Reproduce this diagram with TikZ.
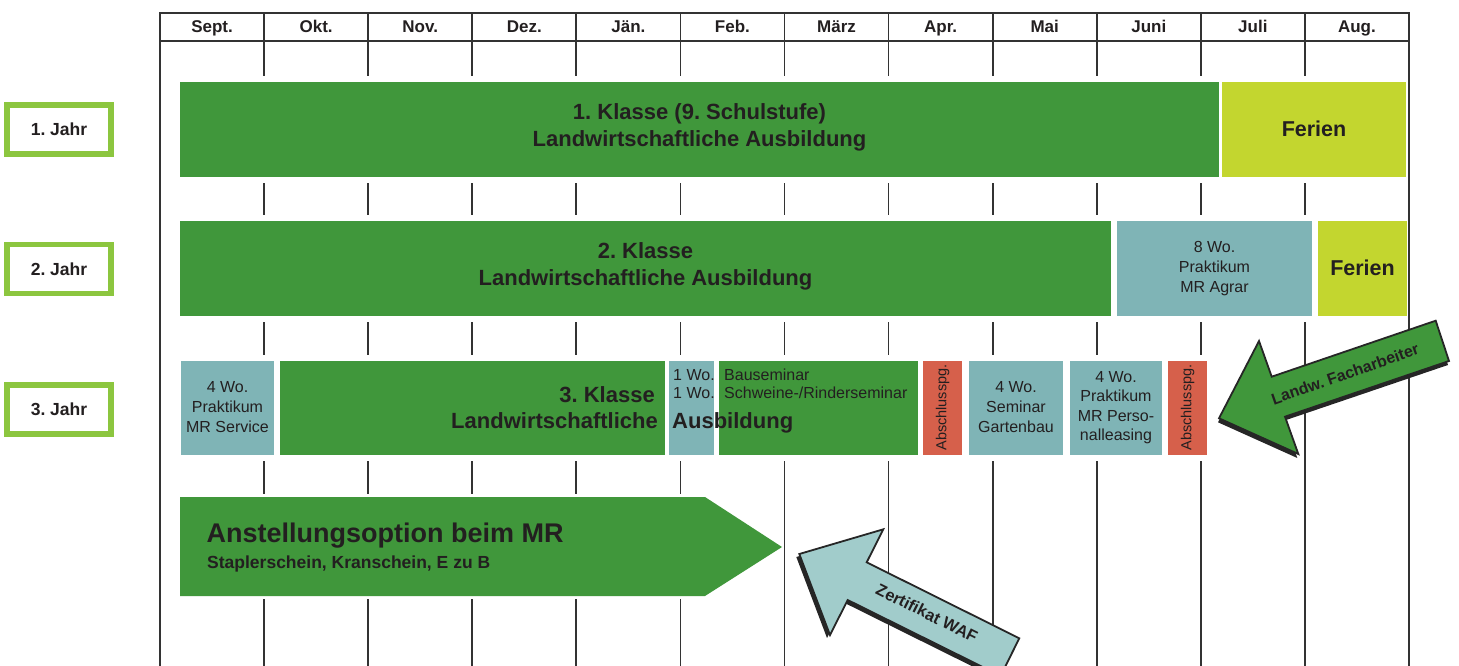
\documentclass[tikz,border=0pt]{standalone}
\usepackage{fontspec}
\setmainfont{Liberation Sans}
\frenchspacing
\definecolor{dgreen}{HTML}{40973B}
\definecolor{lime}{HTML}{C3D62F}
\definecolor{tealbox}{HTML}{7FB4B6}
\definecolor{orng}{HTML}{D6604B}
\definecolor{lteal}{HTML}{A1CCCB}
\definecolor{jgreen}{HTML}{8CC63F}
\definecolor{ink}{HTML}{231F20}
\definecolor{gridc}{HTML}{333333}
\definecolor{shadowc}{HTML}{262626}
\newcommand\mybar[6]{%
  \fill[white] (#1,#2-6) rectangle (#3,#4+6);
  \node[inner sep=0pt,outer sep=0pt,fill=#5,minimum width={#3-#1},minimum height={#4-#2}] (#6) at ({(#1+#3)/2},{(#2+#4)/2}) {};}
\begin{document}
\begin{tikzpicture}[x=1pt,y=-1pt,
  txt/.style={text=ink,inner sep=0pt},
  month/.style={txt,font=\fontsize{17}{20}\selectfont\bfseries,anchor=base},
  big/.style={txt,font=\fontsize{22}{27}\selectfont\bfseries,align=center},
  ferien/.style={txt,font=\fontsize{21.5}{26}\selectfont\bfseries},
  small/.style={txt,font=\fontsize{16}{20}\selectfont,align=center},
  small2/.style={txt,font=\fontsize{16}{19.5}\selectfont,align=center},
  exam/.style={txt,font=\fontsize{14.5}{17}\selectfont,rotate=90},
  jahr/.style={draw=jgreen,line width=5.6pt,fill=white,minimum width=104.3pt,minimum height=49.3pt,inner sep=0pt,text=ink,font=\fontsize{17.5}{20}\selectfont\bfseries},
  gridline/.style={draw=gridc,line width=1.8pt},
  arrowout/.style={draw=shadowc,line width=1.8pt,line join=miter}
]
\useasboundingbox (0,0) rectangle (1459,666);
\begin{scope}
\clip (0,0) rectangle (1459,666);
% grid
\foreach \i in {0,...,12} {
  \draw[gridline] ({160+104.083*\i},13) -- ({160+104.083*\i},666);
}
\draw[gridline] (159.1,13) -- (1409.9,13);
\draw[gridline] (159.1,41) -- (1409.9,41);
\foreach \m [count=\i from 0] in {Sept.,Okt.,Nov.,Dez.,Jän.,Feb.,März,Apr.,Mai,Juni,Juli,Aug.} {
  \node[month] (m\i) at ({160+104.083*(\i+0.5)},33) {\m};
}
% year labels
\node[jahr] (j1) at (59,129.5) {1. Jahr};
\node[jahr] (j2) at (59,269) {2. Jahr};
\node[jahr] (j3) at (59,409.4) {3. Jahr};
% row 1
\mybar{180}{82}{1219}{177}{dgreen}{r1a}
\mybar{1222}{82}{1406}{177}{lime}{r1b}
\node[big] (t1) at (699.5,127) {1. Klasse (9. Schulstufe)\\Landwirtschaftliche Ausbildung};
\node[ferien] (f1) at (1314,129) {Ferien};
% row 2
\mybar{180}{221}{1111}{316}{dgreen}{r2a}
\mybar{1117}{221}{1312}{316}{tealbox}{r2b}
\mybar{1318}{221}{1407}{316}{lime}{r2c}
\node[big] (t2) at (645.5,266) {2. Klasse\\Landwirtschaftliche Ausbildung};
\node[small] (t2b) at (1214.5,268.5) {8 Wo.\\Praktikum\\MR Agrar};
\node[ferien] (f2) at (1362.5,268) {Ferien};
% row 3
\mybar{181}{361}{274}{455}{tealbox}{r3a}
\mybar{280}{361}{664.5}{455}{dgreen}{r3b}
\mybar{669}{361}{713.5}{455}{tealbox}{r3c}
\mybar{718.5}{361}{917.5}{455}{dgreen}{r3d}
\mybar{923}{361}{962}{455}{orng}{r3e}
\mybar{969}{361}{1063}{455}{tealbox}{r3f}
\mybar{1070}{361}{1162}{455}{tealbox}{r3g}
\mybar{1168}{361}{1207}{455}{orng}{r3h}
\node[small] (t3a) at (227.5,407) {4 Wo.\\Praktikum\\MR Service};
\node[txt,font=\fontsize{22}{27}\selectfont\bfseries,anchor=base east] (t3k) at (655,402) {3. Klasse};
\node[txt,font=\fontsize{22}{27}\selectfont\bfseries,anchor=base east] (t3l) at (658,428) {Landwirtschaftliche};
\node[txt,font=\fontsize{22}{27}\selectfont\bfseries,anchor=base west] (t3m) at (672,428) {Ausbildung};
\node[txt,font=\fontsize{16}{18}\selectfont,anchor=base west] (t3c1) at (673,380) {1 Wo.};
\node[txt,font=\fontsize{16}{18}\selectfont,anchor=base west] (t3c2) at (673,398) {1 Wo.};
\node[txt,font=\fontsize{16}{18}\selectfont,anchor=base west] (t3d1) at (724,380) {Bauseminar};
\node[txt,font=\fontsize{16}{18}\selectfont,anchor=base west] (t3d2) at (724,398) {Schweine-/Rinderseminar};
\node[exam] (t3e) at (942.5,407.5) {Abschlusspg.};
\node[small] (t3f) at (1016,407) {4 Wo.\\Seminar\\Gartenbau};
\node[small2] (t3g) at (1116,407.5) {4 Wo.\\Praktikum\\MR Perso-\\nalleasing};
\node[exam] (t3h) at (1187.5,407.5) {Abschlusspg.};
% row 4 arrow
\fill[white] (180,494) rectangle (704,599);
\fill[dgreen] (180,497) -- (705,497) -- (782,547) -- (705,596) -- (180,596) -- cycle;
\node[txt,font=\fontsize{27}{30}\selectfont\bfseries,anchor=base west] (t4a) at (206.5,542) {Anstellungsoption beim MR};
\node[txt,font=\fontsize{17.5}{20}\selectfont\bfseries,anchor=base west] (t4b) at (207,568) {Staplerschein, Kranschein, E zu B};
% green arrow Landw. Facharbeiter
\fill[shadowc,shift={(-1,4)}] (1219,418.3) -- (1259,341) -- (1271.7,376.7) -- (1435.7,320.7) -- (1449,361) -- (1285,416.7) -- (1298.3,454) -- cycle;
\filldraw[fill=dgreen,arrowout] (1219,418.3) -- (1259,341) -- (1271.7,376.7) -- (1435.7,320.7) -- (1449,361) -- (1285,416.7) -- (1298.3,454) -- cycle;
\node[txt,font=\fontsize{16}{18}\selectfont\bfseries,rotate=19.3] (tfa) at (1345,374) {Landw. Facharbeiter};
% light arrow Zertifikat WAF
\fill[shadowc,shift={(-3,3)}] (799.3,554) -- (883.3,529.3) -- (866.7,562.3) -- (1019.3,638.3) -- (1000.6,675.9) -- (847.7,600) -- (830,635) -- cycle;
\filldraw[fill=lteal,arrowout] (799.3,554) -- (883.3,529.3) -- (866.7,562.3) -- (1019.3,638.3) -- (1000.6,675.9) -- (847.7,600) -- (830,635) -- cycle;
\node[txt,font=\fontsize{16.5}{18}\selectfont\bfseries,rotate=-26.5] (tza) at (927,613) {Zertifikat WAF};
\end{scope}
\end{tikzpicture}
\end{document}
